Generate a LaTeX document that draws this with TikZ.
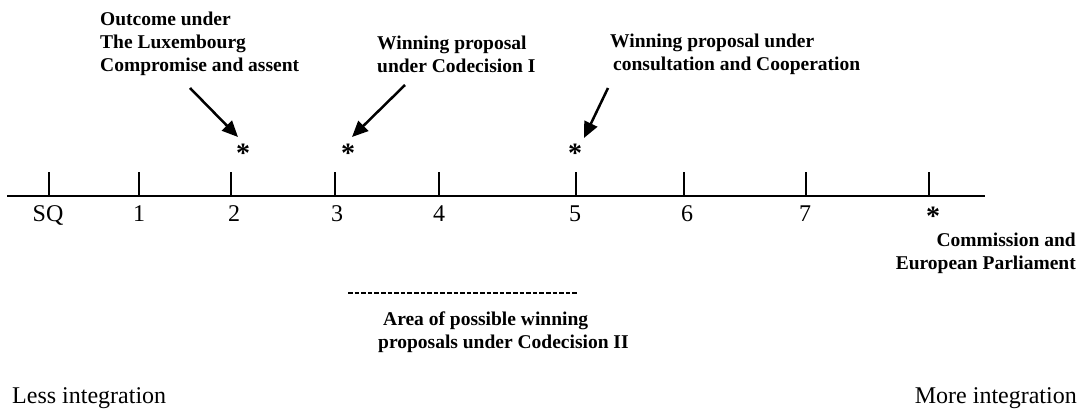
\documentclass[tikz,border=0pt]{standalone}
\usepackage{fontspec}
\setmainfont{Liberation Serif}
\usetikzlibrary{arrows.meta}

\begin{document}
\begin{tikzpicture}[x=1pt,y=-1pt,
  axis/.style={line width=1.7pt},
  tickmark/.style={line width=1.7pt},
  ticklabel/.style={anchor=base,inner sep=0pt,font=\fontsize{24}{28}\selectfont},
  note/.style={inner sep=0pt,font=\bfseries\fontsize{19.5}{23}\selectfont},
  starmark/.style={anchor=base,inner sep=0pt,font=\bfseries\fontsize{28}{30}\selectfont},
  pointer/.style={line width=2.5pt,-{Triangle[length=16pt,width=14pt]}},
  sidelabel/.style={inner sep=0pt,font=\fontsize{24}{28}\selectfont},
  rangeline/.style={line width=2pt,dash pattern=on 4.6pt off 2pt}]

  \useasboundingbox (0,0) rectangle (1080,414);

  % policy axis
  \coordinate (axL) at (7,196);
  \coordinate (axR) at (985,196);
  \draw[axis] (axL) -- (axR);

  % tick marks with their labels
  \foreach \name/\x/\lab/\dx in {tSQ/49/SQ/-1, t1/139/1/0, t2/231/2/3, t3/335/3/2,
                                 t4/439/4/0, t5/576/5/-1, t6/684/6/3, t7/806/7/-1} {
    \coordinate (\name) at (\x,196);
    \draw[tickmark] (\name) -- ++(0,-24);
    \node[ticklabel] (l\name) at (\x+\dx,222) {\lab};
  }
  \coordinate (tCEP) at (929,196);
  \draw[tickmark] (tCEP) -- ++(0,-24);
  \node[starmark] (sCEP) at (933,226) {*};

  % outcome markers above the axis
  \node[starmark] (s2) at (243,163) {*};
  \node[starmark] (s3) at (348,163) {*};
  \node[starmark] (s5) at (575,163) {*};

  % annotations
  \node[note,anchor=west,align=left] (nLux) at (100,43.5)
    {Outcome under\\The Luxembourg\\Compromise and assent};
  \node[note,anchor=west,align=left] (nCod) at (377,54.5)
    {Winning proposal\\under Codecision I};
  \node[note,anchor=west,align=left] (nCons) at (610,54.5)
    {Winning proposal under\\\hspace*{3pt}consultation and Cooperation};
  \node[note,anchor=east,align=right] (nCEP) at (1076,253.5)
    {Commission and\\European Parliament};

  % arrows pointing at the markers
  \coordinate (a1s) at (190,88);  \coordinate (a1e) at (238,137);
  \coordinate (a2s) at (405,85);  \coordinate (a2e) at (352,137);
  \coordinate (a3s) at (608,88);  \coordinate (a3e) at (584,138);
  \draw[pointer] (a1s) -- (a1e);
  \draw[pointer] (a2s) -- (a2e);
  \draw[pointer] (a3s) -- (a3e);

  % range of Codecision II proposals
  \coordinate (rL) at (348,293);
  \coordinate (rR) at (577,293);
  \draw[rangeline] (rL) -- (rR);
  \node[note,anchor=west,align=left] (nArea) at (378,332.5)
    {\hspace*{5pt}Area of possible winning\\proposals under Codecision II};

  % direction labels
  \node[sidelabel,anchor=west] (less) at (12,398) {Less integration};
  \node[sidelabel,anchor=east] (more) at (1077,398) {More integration};
\end{tikzpicture}
\end{document}
